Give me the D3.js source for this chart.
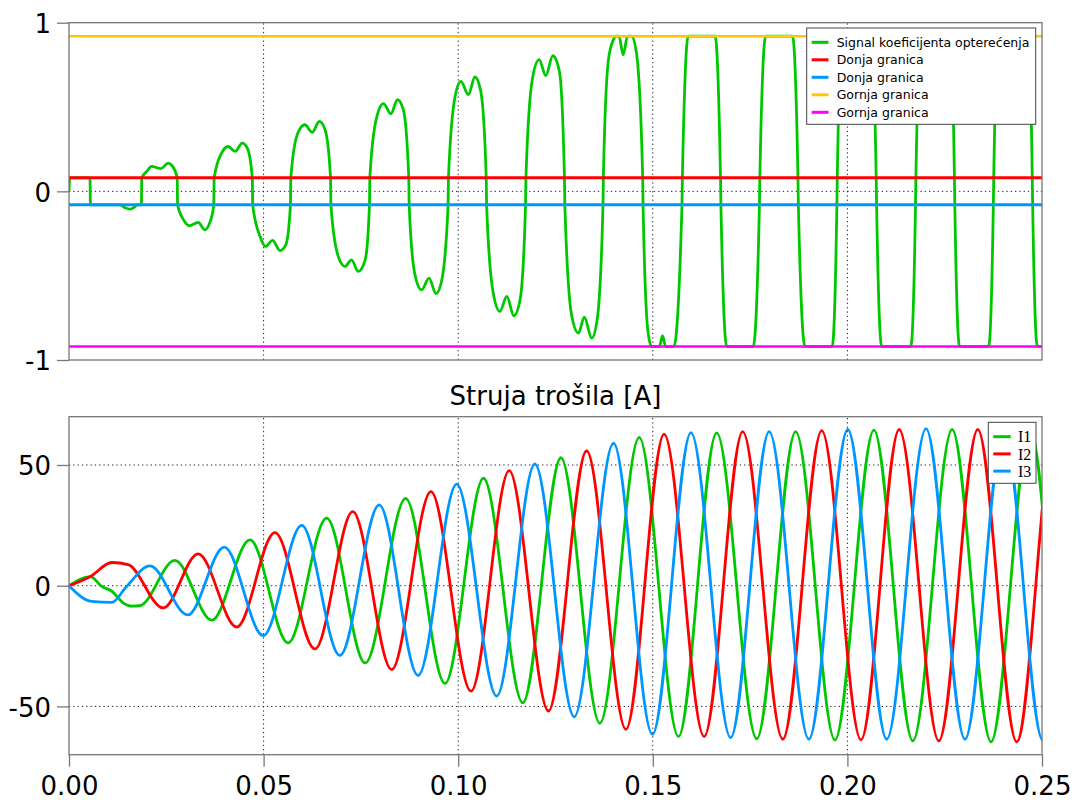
<!DOCTYPE html>
<html><head><meta charset="utf-8">
<script src="https://cdn.jsdelivr.net/npm/d3@7"></script>
<style>body{margin:0;background:#fff}svg{display:block}</style>
</head><body>
<svg id="chart" width="1075" height="800"></svg>
<script>
// ---------- data ----------
const xTickValues = [0, 0.05, 0.10, 0.15, 0.20, 0.25];
const xGridValues = [0.05, 0.10, 0.15, 0.20];
const topYTicks = [-1, 0, 1];
const topYGrid = [0];
const botYTicks = [-50, 0, 50];
const botTitle = "Struja trošila [A]";

const topLegendNames = ["Signal koeficijenta opterećenja", "Donja granica", "Donja granica", "Gornja granica", "Gornja granica"];
const limitValues = [0.08, -0.08, 0.92, -0.92];

// load coefficient signal [t, value]
const signal = [
[0,0],[0.0002,0.08],[0.0054,0.08],[0.0055,-0.08],[0.0131,-0.08],[0.0144,-0.097],[0.0157,-0.105],[0.0170,-0.09],[0.0175,-0.08],[0.0186,-0.08],[0.0187,0.08],
[0.0200,0.118],[0.0212,0.148],[0.0236,0.135],[0.0255,0.167],[0.0264,0.155],[0.0278,0.08],[0.0279,-0.08],
[0.0294,-0.168],[0.0309,-0.204],[0.0332,-0.184],[0.0349,-0.228],[0.0362,-0.184],[0.0372,-0.08],[0.0373,0.08],
[0.0392,0.227],[0.0409,0.266],[0.0427,0.237],[0.0445,0.286],[0.0458,0.257],[0.0471,0.08],[0.0472,-0.08],
[0.0491,-0.268],[0.0505,-0.327],[0.0523,-0.291],[0.0542,-0.351],[0.0557,-0.317],[0.0569,-0.08],[0.0570,0.08],
[0.0588,0.346],[0.0606,0.395],[0.0625,0.350],[0.0643,0.415],[0.0658,0.365],[0.0672,0.08],[0.0673,-0.08],
[0.0692,-0.387],[0.0709,-0.445],[0.0726,-0.406],[0.0743,-0.475],[0.0761,-0.406],[0.0772,-0.08],[0.0773,0.08],
[0.0791,0.444],[0.0808,0.520],[0.0827,0.460],[0.0844,0.543],[0.0859,0.484],[0.0873,0.08],[0.0874,-0.08],
[0.0889,-0.495],[0.0906,-0.584],[0.0925,-0.514],[0.0943,-0.607],[0.0958,-0.524],[0.0974,-0.08],[0.0975,0.08],
[0.0992,0.563],[0.1007,0.652],[0.1026,0.573],[0.1043,0.678],[0.1058,0.593],[0.1072,0.08],[0.1073,-0.08],
[0.1090,-0.603],[0.1107,-0.712],[0.1125,-0.623],[0.1143,-0.738],[0.1159,-0.643],[0.1173,-0.08],[0.1174,0.08],
[0.1191,0.672],[0.1208,0.781],[0.1225,0.686],[0.1243,0.804],[0.1260,0.711],[0.1273,0.08],[0.1274,-0.08],
[0.1292,-0.742],[0.1309,-0.840],[0.1324,-0.746],[0.1343,-0.870],[0.1357,-0.762],[0.1372,-0.08],[0.1373,0.08],
[0.1386,0.78],[0.1399,0.90],[0.1405,0.92],[0.1413,0.92],[0.1424,0.81],[0.1435,0.92],[0.1445,0.92],[0.1458,0.82],[0.1474,0.08],[0.1475,-0.08],
[0.1488,-0.84],[0.1497,-0.92],[0.1517,-0.92],[0.1525,-0.856],[0.1533,-0.92],[0.1554,-0.92],[0.1575,-0.08],[0.1576,0.08],
[0.1591,0.92],[0.1660,0.92],[0.1674,0.08],[0.1675,-0.08],[0.1690,-0.92],[0.1758,-0.92],[0.1774,-0.08],[0.1775,0.08],
[0.1790,0.92],[0.1859,0.92],[0.1873,0.08],[0.1874,-0.08],[0.1891,-0.92],[0.1961,-0.92],[0.1973,-0.08],[0.1974,0.08],
[0.1986,0.92],[0.2061,0.92],[0.2074,0.08],[0.2075,-0.08],[0.2088,-0.92],[0.2163,-0.92],[0.2175,-0.08],[0.2176,0.08],
[0.2189,0.92],[0.2264,0.92],[0.2275,0.08],[0.2276,-0.08],[0.2288,-0.92],[0.2363,-0.92],[0.2375,-0.08],[0.2376,0.08],
[0.2388,0.92],[0.2465,0.92],[0.2475,0.08],[0.2476,-0.08],[0.2488,-0.92],[0.2500,-0.92]
];

const currentNames = ["I1", "I2", "I3"];
// load currents: key points [t, A] (start-up points and peaks / troughs, one beyond the right edge)
const i1 = [
[0,0],[0.0055,3.8],[0.0084,-0.3],[0.0110,-2.3],[0.0140,-7.2],[0.0161,-8.5],[0.0182,-8.3],
[0.0272,10.5],[0.0367,-14.3],[0.0465,19.0],[0.0563,-23.7],[0.0662,28.0],[0.0761,-32.0],[0.0865,36.2],
[0.0966,-40.5],[0.1065,44.5],[0.1166,-48.5],[0.1264,53.0],[0.1364,-57.0],[0.1465,61.4],[0.1566,-62.5],
[0.1664,63.3],[0.1767,-63.4],[0.1867,63.8],[0.1968,-63.9],[0.2068,64.4],[0.2168,-64.3],[0.2269,64.7],
[0.2369,-64.7],[0.2469,65.0],[0.2569,-65.0],[0.2669,65.0]
];
const i2 = [
[0,0],[0.0055,3.8],[0.0110,9.6],[0.0152,8.7],
[0.0242,-9.2],[0.0332,13.2],[0.0431,-17.1],[0.0529,22.0],[0.0632,-26.2],[0.0729,30.7],[0.0829,-34.7],
[0.0930,39.0],[0.1033,-43.7],[0.1131,47.7],[0.1232,-51.9],[0.1330,55.9],[0.1431,-59.5],[0.1529,62.8],
[0.1632,-62.5],[0.1731,63.8],[0.1834,-63.6],[0.1934,64.2],[0.2035,-63.9],[0.2133,64.7],[0.2235,-64.3],
[0.2335,64.7],[0.2435,-64.7],[0.2533,65.0],[0.2635,-65.0]
];
const i3 = [
[0,0],[0.0058,-6.5],[0.0110,-6.9],[0.0148,-0.3],
[0.0208,8.2],[0.0305,-12.1],[0.0399,16.0],[0.0499,-20.7],[0.0598,25.0],[0.0696,-28.9],[0.0797,33.5],
[0.0897,-37.2],[0.0996,42.1],[0.1099,-45.7],[0.1197,50.4],[0.1298,-54.3],[0.1399,59.0],[0.1499,-61.6],
[0.1598,63.4],[0.1700,-63.0],[0.1799,63.8],[0.1901,-63.6],[0.2001,64.7],[0.2101,-63.6],[0.2202,65.1],
[0.2302,-63.6],[0.2402,65.0],[0.2502,-64.0],[0.2602,65.0]
];

// ---------- styles ----------
const GREEN = "#00c800", RED = "#ff0000", BLUE = "#0096ff", YELLOW = "#ffc800", MAGENTA = "#ff00ff";
const limitColors = [RED, BLUE, YELLOW, MAGENTA];
const currentColors = [GREEN, RED, BLUE];
const FRAME = "#777";
const FONT = "'DejaVu Sans', Verdana, sans-serif";

const svg = d3.select("#chart");
const L = 69, R = 1042;
const x = d3.scaleLinear().domain([0, 0.25]).range([L, R]);
const yTop = d3.scaleLinear().domain([-1, 1]).range([360, 22.7]);
const yBot = d3.scaleLinear().domain([-70, 70]).range([754.7, 416.7]);

const defs = svg.append("defs");
defs.append("clipPath").attr("id", "clipTop").append("rect")
  .attr("x", L).attr("y", 22.7).attr("width", R - L).attr("height", 360 - 22.7);
defs.append("clipPath").attr("id", "clipBot").append("rect")
  .attr("x", L).attr("y", 416.7).attr("width", R - L).attr("height", 754.7 - 416.7);

function grid(yScale, yVals, clip) {
  const g = svg.append("g").attr("clip-path", `url(#${clip})`)
    .attr("stroke", "#222").attr("stroke-width", 1).attr("stroke-dasharray", "1.3,3");
  g.selectAll(".gv").data(xGridValues).join("line")
    .attr("x1", d => x(d)).attr("x2", d => x(d))
    .attr("y1", yScale.range()[0]).attr("y2", yScale.range()[1]);
  g.selectAll(".gh").data(yVals).join("line")
    .attr("x1", L).attr("x2", R)
    .attr("y1", d => yScale(d)).attr("y2", d => yScale(d));
}
grid(yTop, topYGrid, "clipTop");
grid(yBot, botYTicks, "clipBot");

// ---------- top panel ----------
const lineTop = d3.line().x(d => x(d[0])).y(d => yTop(d[1])).curve(d3.curveMonotoneX);
const gTop = svg.append("g").attr("clip-path", "url(#clipTop)");
gTop.append("path").datum(signal).attr("d", lineTop)
  .attr("fill", "none").attr("stroke", GREEN).attr("stroke-width", 2.8).attr("stroke-linejoin", "round");
gTop.selectAll(".lim").data(limitValues).join("line")
  .attr("x1", L).attr("x2", R)
  .attr("y1", d => yTop(d)).attr("y2", d => yTop(d))
  .attr("stroke", (d, i) => limitColors[i]).attr("stroke-width", (d, i) => i < 2 ? 3 : 2.6);

// ---------- bottom panel ----------
const lineBot = d3.line().x(d => x(d[0])).y(d => yBot(d[1])).curve(d3.curveMonotoneX);
const gBot = svg.append("g").attr("clip-path", "url(#clipBot)");
gBot.selectAll(".cur").data([i1, i2, i3]).join("path")
  .attr("d", lineBot).attr("fill", "none")
  .attr("stroke", (d, i) => currentColors[i]).attr("stroke-width", 2.8).attr("stroke-linejoin", "round");

// frames
[[22.7, 360], [416.7, 754.7]].forEach(([t, b]) => {
  svg.append("rect").attr("x", L).attr("y", t).attr("width", R - L).attr("height", b - t)
    .attr("fill", "none").attr("stroke", FRAME).attr("stroke-width", 1.3);
});

// axes
function styleAxis(g) {
  g.select(".domain").remove();
  g.selectAll(".tick line").attr("stroke", FRAME).attr("stroke-width", 1.3);
  g.selectAll("text").attr("font-family", FONT).attr("font-size", 26).attr("fill", "#000");
}
const axTop = svg.append("g").attr("transform", `translate(${L},0)`)
  .call(d3.axisLeft(yTop).tickValues(topYTicks).tickSize(12).tickPadding(6).tickFormat(d => String(d)));
styleAxis(axTop);
axTop.selectAll("text").attr("dy", "0.38em");

const axBotY = svg.append("g").attr("transform", `translate(${L},0)`)
  .call(d3.axisLeft(yBot).tickValues(botYTicks).tickSize(12).tickPadding(6).tickFormat(d => String(d)));
styleAxis(axBotY);
axBotY.selectAll("text").attr("dy", "0.38em");

const axBotX = svg.append("g").attr("transform", `translate(0,754.7)`)
  .call(d3.axisBottom(x).tickValues(xTickValues).tickSize(12).tickFormat(d3.format(".2f")));
styleAxis(axBotX);
axBotX.selectAll("text").attr("dy", null).attr("y", 40.3);

// title
svg.append("text").attr("x", (L + R) / 2).attr("y", 405).attr("text-anchor", "middle")
  .attr("font-family", FONT).attr("font-size", 26).attr("fill", "#000").text(botTitle);

// ---------- legends ----------
function legend(x0, y0, w, h, names, colors, rowY0, rowStep, lx0, lx1, tx, font, fsize) {
  const g = svg.append("g");
  g.append("rect").attr("x", x0).attr("y", y0).attr("width", w).attr("height", h)
    .attr("fill", "#fff").attr("stroke", "#444").attr("stroke-width", 1);
  names.forEach((n, i) => {
    const yy = rowY0 + i * rowStep;
    g.append("line").attr("x1", lx0).attr("x2", lx1).attr("y1", yy).attr("y2", yy)
      .attr("stroke", colors[i]).attr("stroke-width", 3);
    g.append("text").attr("x", tx).attr("y", yy).attr("dy", "0.35em")
      .attr("font-family", font).attr("font-size", fsize).attr("fill", "#000").text(n);
  });
}
legend(806.7, 28, 229, 96.3, topLegendNames, [GREEN].concat(limitColors), 42.3, 17.5, 811.7, 828.5, 836.7, FONT, 12.5);
legend(988.3, 422.3, 47.7, 61, currentNames, currentColors, 436.7, 17.2, 993.3, 1010.7, 1018, "'Liberation Serif', 'Times New Roman', serif", 16);
</script>
</body></html>
